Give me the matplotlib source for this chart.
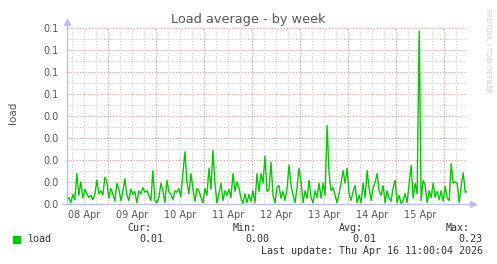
import numpy as np
import matplotlib
matplotlib.use("Agg")
import matplotlib.pyplot as plt

# Munin "Load average - by week", one point per hour starting Apr 8 03:30
load = [
    0.004, 0.008, 0.001, 0.012, 0.005, 0.040, 0.011, 0.029, 0.007, 0.019, 0.013, 0.008,
    0.011, 0.005, 0.012, 0.031, 0.013, 0.017, 0.011, 0.035, 0.029, 0.007, 0.020, 0.013,
    0.003, 0.027, 0.019, 0.004, 0.016, 0.033, 0.011, 0.004, 0.019, 0.012, 0.016, 0.001,
    0.017, 0.013, 0.021, 0.015, 0.017, 0.011, 0.004, 0.044, 0.004, 0.001, 0.008, 0.027,
    0.017, 0.001, 0.031, 0.016, 0.012, 0.005, 0.017, 0.015, 0.020, 0.009, 0.040, 0.069,
    0.029, 0.013, 0.040, 0.020, 0.003, 0.020, 0.017, 0.008, 0.001, 0.020, 0.011, 0.047,
    0.019, 0.071, 0.027, 0.001, 0.013, 0.027, 0.004, 0.017, 0.011, 0.019, 0.008, 0.040,
    0.016, 0.029, 0.021, 0.007, 0.000, 0.013, 0.001, 0.012, 0.003, 0.017, 0.001, 0.040,
    0.016, 0.040, 0.027, 0.063, 0.016, 0.019, 0.055, 0.011, 0.001, 0.021, 0.024, 0.007,
    0.016, 0.004, 0.020, 0.051, 0.024, 0.011, 0.001, 0.021, 0.047, 0.029, 0.001, 0.017,
    0.007, 0.031, 0.008, 0.001, 0.017, 0.008, 0.027, 0.007, 0.027, 0.011, 0.104, 0.040,
    0.017, 0.021, 0.011, 0.001, 0.013, 0.028, 0.044, 0.027, 0.047, 0.013, 0.004, 0.016,
    0.024, 0.001, 0.011, 0.001, 0.027, 0.008, 0.044, 0.020, 0.004, 0.021, 0.028, 0.040,
    0.017, 0.011, 0.024, 0.001, 0.017, 0.007, 0.003, 0.021, 0.031, 0.001, 0.011, 0.000,
    0.004, 0.013, 0.001, 0.027, 0.051, 0.007, 0.027, 0.013, 0.230, 0.004, 0.031, 0.024,
    0.001, 0.017, 0.008, 0.027, 0.008, 0.016, 0.005, 0.017, 0.003, 0.023, 0.007, 0.004,
    0.053, 0.027, 0.029, 0.027, 0.001, 0.024, 0.041, 0.015, 0.016,
]
start_hour = 3.5

day_labels = ["08 Apr", "09 Apr", "10 Apr", "11 Apr", "12 Apr", "13 Apr", "14 Apr", "15 Apr"]
y_labels = ["0.0", "0.0", "0.0", "0.0", "0.0", "0.1", "0.1", "0.1", "0.1"]

legend_name = "load"
stats_heads = ["Cur:", "Min:", "Avg:", "Max:"]
stats_vals = ["0.01", "0.00", "0.01", "0.23"]
last_update = "Last update: Thu Apr 16 11:00:04 2026"

GREEN = "#00cc00"
RED_GRID = "#e8a8a8"
GRAY_GRID = "#d4d4d4"
AXIS = "#b9bff0"
TXT = "#555555"

W, H = 497, 264
fig = plt.figure(figsize=(W / 100, H / 100), dpi=100)
fig.patch.set_facecolor("white")

# plot area in pixels: x 67..467, y 28..203.5
ax = fig.add_axes([67 / W, 1 - 203.5 / H, 400 / W, 175.5 / H])
ax.set_facecolor("white")

x = (start_hour + np.arange(len(load))) / 24.0
ymax = 0.234
ax.set_xlim(0.15, 8.475)
ax.set_ylim(0, ymax)

# dotted grid
grid_kw = dict(lw=0.72, ls=(0, (1.5, 1.5)))
for q in np.arange(0.25, 8.5, 0.25):
    if abs(q - round(q)) < 1e-6:
        ax.axvline(q, color=RED_GRID, zorder=1, **grid_kw)
    else:
        ax.axvline(q, color=GRAY_GRID, zorder=0, **grid_kw)
step = ymax / 8
for k in range(1, 17):
    yv = k * step / 2
    if k % 2 == 0:
        ax.axhline(yv, color=RED_GRID, zorder=1, **grid_kw)
    else:
        ax.axhline(yv, color=GRAY_GRID, zorder=0, **grid_kw)

ax.plot(x, load, color=GREEN, lw=1.0, zorder=3)

# ticks / labels
ax.set_xticks(np.arange(8) + 0.5)
ax.set_xticklabels(day_labels)
ax.set_yticks(np.linspace(0, ymax, 9))
ax.set_yticklabels(y_labels)
ax.tick_params(axis="both", length=0, labelsize=7, labelcolor=TXT)
ax.tick_params(axis="x", pad=5)
ax.tick_params(axis="y", pad=6)
for s in ax.spines.values():
    s.set_visible(False)

# axis lines with arrows (RRDtool style)
ax.plot([-0.012, 1.012], [0, 0], transform=ax.transAxes, color=AXIS, lw=1.0,
        clip_on=False, zorder=4)
ax.plot([0, 0], [0, 1.03], transform=ax.transAxes, color=AXIS, lw=1.0,
        clip_on=False, zorder=4)
ax.plot([1.015], [0], transform=ax.transAxes, marker=">", ms=5, color=AXIS,
        clip_on=False, zorder=4)
ax.plot([0], [1.035], transform=ax.transAxes, marker="^", ms=5, color=AXIS,
        clip_on=False, zorder=4)

fig.text(248.5 / W, 1 - 20 / H, "Load average - by week", ha="center", va="center",
         fontsize=9.3, color=TXT)
fig.text(13 / W, 1 - 113 / H, "load", ha="center", va="center", rotation=90,
         fontsize=7.5, color=TXT)
fig.text(488 / W, 1 - 8 / H, "RRDTOOL / TOBI OETIKER", ha="center", va="top",
         rotation=-90, fontsize=4.8, color="#c8c8c8")

# legend
mono = "DejaVu Sans Mono"
fig.patches.append(plt.Rectangle((13 / W, 1 - 242.5 / H), 6.5 / W, 6.5 / H,
                                 transform=fig.transFigure, color=GREEN))
fig.text(27 / W, 1 - 239.5 / H, legend_name, ha="left", va="center",
         family=mono, fontsize=7.2, color="#333333")
head_x = [151, 257, 363, 470]
val_x = [163, 269, 376, 482]
for hx, vx, hd, vl in zip(head_x, val_x, stats_heads, stats_vals):
    fig.text(hx / W, 1 - 228 / H, hd, ha="right", va="center", family=mono,
             fontsize=7.2, color="#333333")
    fig.text(vx / W, 1 - 239.5 / H, vl, ha="right", va="center", family=mono,
             fontsize=7.2, color="#333333")
fig.text(483 / W, 1 - 251 / H, last_update, ha="right", va="center", family=mono,
         fontsize=7.2, color="#333333")

fig.savefig("out.png", dpi=100)
